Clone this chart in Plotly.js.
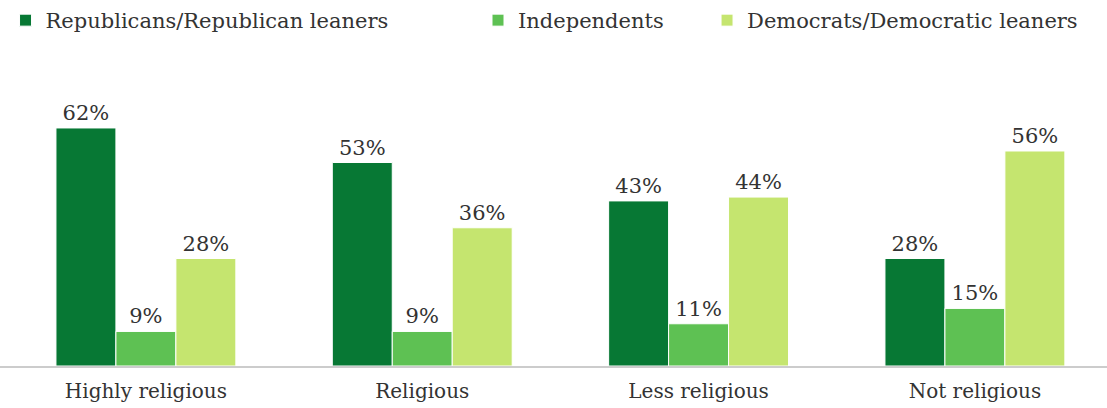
<!DOCTYPE html>
<html>
<head>
<meta charset="utf-8">
<script src="https://cdn.plot.ly/plotly-3.0.1.min.js"></script>
<style>html,body{margin:0;padding:0;background:#fff;}#chart{width:1107px;height:408px;}</style>
</head>
<body>
<div id="chart"></div>
<script>
const categories = ["Highly religious", "Religious", "Less religious", "Not religious"];
const seriesNames = ["Republicans/Republican leaners", "Independents", "Democrats/Democratic leaners"];
const republicans = [62, 53, 43, 28];
const independents = [9, 9, 11, 15];
const democrats = [28, 36, 44, 56];
const colors = ["#077834", "#5ec153", "#c5e56f"];

const FONT = "'DejaVu Serif', Georgia, serif";
const seriesValues = [republicans, independents, democrats];
const legendIds = ["legend", "legend2", "legend3"];
const traces = seriesValues.map((vals, i) => ({
  type: "bar",
  name: seriesNames[i],
  legend: legendIds[i],
  x: categories,
  y: vals,
  text: vals.map(v => v + "%"),
  textposition: "outside",
  cliponaxis: false,
  textfont: {family: FONT, size: 21, color: "#333"},
  marker: {color: colors[i], line: {color: "#fff", width: 1}},
  hoverinfo: "skip"
}));

const legendBase = {orientation: "h", xanchor: "left", y: 1, yref: "container", yanchor: "top",
  font: {family: FONT, size: 21, color: "#333"}, itemwidth: 30, bgcolor: "rgba(0,0,0,0)"};

const layout = {
  width: 1107, height: 408,
  margin: {l: 0, r: 0, t: 60, b: 42},
  paper_bgcolor: "#fff", plot_bgcolor: "#fff",
  font: {family: FONT, size: 20, color: "#333"},
  barmode: "group",
  bargap: 0.349,
  bargroupgap: 0,
  showlegend: true,
  legend: Object.assign({}, legendBase, {x: 0.005}),
  legend2: Object.assign({}, legendBase, {x: 0.4318}),
  legend3: Object.assign({}, legendBase, {x: 0.6387}),
  xaxis: {
    type: "category",
    range: [-0.528, 3.478],
    showline: true, linecolor: "#cccccc", linewidth: 2,
    ticks: "", showgrid: false, zeroline: false,
    ticklabelstandoff: 6,
    tickfont: {family: FONT, size: 20, color: "#333"}
  },
  yaxis: {
    range: [0, 79.7],
    visible: false, showgrid: false, zeroline: false
  }
};

Plotly.newPlot("chart", traces, layout, {staticPlot: true, displayModeBar: false});
</script>
</body>
</html>
